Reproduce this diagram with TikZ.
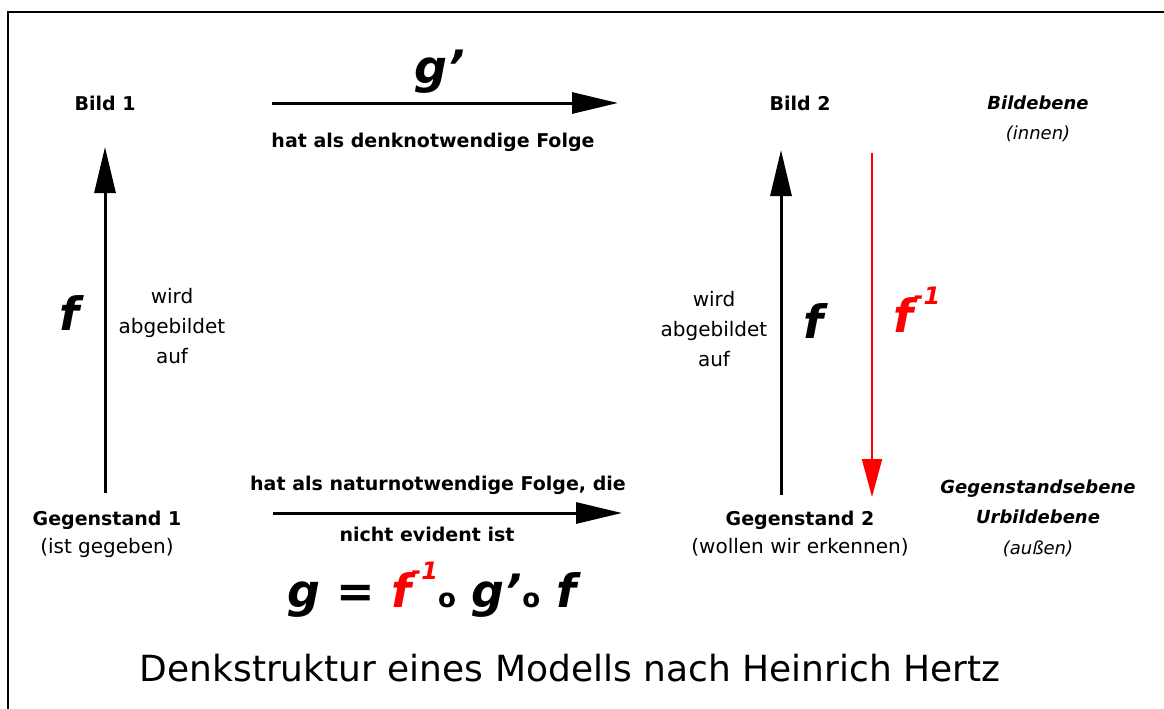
\documentclass[tikz,border=0pt]{standalone}
\usepackage{fontspec}
\setmainfont{DejaVu Sans}
\usetikzlibrary{arrows.meta}
\usetikzlibrary{positioning}

\tikzset{
  lbl/.style={font=\fontsize{20}{28}\selectfont, align=center, inner sep=0pt},
  fett/.style={font=\fontsize{19}{27}\selectfont\bfseries, inner sep=0pt},
  txt/.style={font=\fontsize{20}{30}\selectfont, align=center, inner sep=0pt},
  ebene/.style={font=\fontsize{18}{30.5}\selectfont\itshape, align=center, inner sep=0pt},
  sym/.style={font=\fontsize{46}{46}\selectfont\bfseries\itshape, inner sep=0pt},
  pfeil/.style={line width=3pt, -{Triangle[length=46pt,width=21pt]}},
  rpfeil/.style={red, line width=2pt, -{Triangle[length=38pt,width=20pt]}},
}
\newcommand{\hochm}{\raisebox{0.6em}{\fontsize{24}{24}\selectfont -1}}

\begin{document}
\begin{tikzpicture}[x=1pt,y=-1pt]
            \useasboundingbox (0,0) rectangle (1164,709);
            \draw[line width=2.5pt] (1164,12) -- (8,12) -- (8,709);

            % linke Seite
            \node[fett] (b1) at (105,103) {Bild 1};
            \node[lbl] (g1) at (107,534) {{\fontsize{19}{27}\selectfont\bfseries Gegenstand 1}\\(ist gegeben)};
            \node[sym] (f1) at (70,313) {f};
            \node[txt] (w1) at (172,326) {wird\\abgebildet\\auf};

            % rechte Seite
            \node[fett] (b2) at (800,103) {Bild 2};
            \node[lbl] (g2) at (800,534) {{\fontsize{19}{27}\selectfont\bfseries Gegenstand 2}\\(wollen wir erkennen)};
            \node[sym] (f2) at (813,321) {f};
            \node[txt] (w2) at (714,329) {wird\\abgebildet\\auf};
            \node[sym,red] (fi) at (917,310) {f\hochm};

            % Ebenen
            \node[ebene] (be) at (1038,119) {{\bfseries Bildebene}\\(innen)};
            \node[ebene] (ge) at (1038,518) {{\bfseries Gegenstandsebene}\\{\bfseries Urbildebene}\\(außen)};

            % Folgen
            \node[sym] (gs) at (440,72) {g'};
            \node[fett] (dn) at (433,142) {hat als denknotwendige Folge};
            \node[fett] (nn) at (438,485) {hat als naturnotwendige Folge, die};
            \node[fett] (ne) at (427,534) {nicht evident ist};
            \node[sym] (gl) at (432,590) {g = \textcolor{red}{f\hochm}{\fontsize{26}{26}\selectfont\upshape o} g'{\fontsize{26}{26}\selectfont\upshape o} f};

            \node[font=\fontsize{36}{36}\selectfont] (ti) at (570,668) {Denkstruktur eines Modells nach Heinrich Hertz};

            % Pfeile
            \draw[pfeil,shorten <=41pt,shorten >=44pt] ([xshift=-2pt]g1.center) -- (b1.center);
            \draw[pfeil,shorten <=39pt,shorten >=47pt] ([xshift=-19pt]g2.center) -- ([xshift=-19pt]b2.center);
            \draw[rpfeil,shorten <=50pt,shorten >=37pt] ([xshift=72pt]b2.center) -- ([xshift=72pt]g2.center);
            \draw[pfeil,shorten <=167pt,shorten >=182pt] (b1.center) -- (b2.center);
            \draw[pfeil,shorten <=166pt,shorten >=178pt] ([yshift=21pt]g1.center) -- ([yshift=21pt]g2.center);
        \end{tikzpicture}
\end{document}
